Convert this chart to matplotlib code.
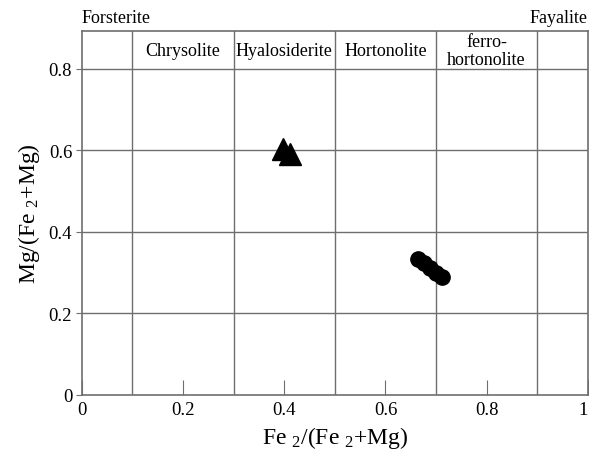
import matplotlib
matplotlib.use("Agg")
import matplotlib.pyplot as plt

plt.rcParams['font.family'] = ['Liberation Serif', 'DejaVu Serif']
plt.rcParams['mathtext.fontset'] = 'custom'
plt.rcParams['mathtext.rm'] = 'Liberation Serif'
plt.rcParams['mathtext.it'] = 'Liberation Serif:italic'

# olivine compositions
tri_fe = [0.397, 0.411]
tri_mg = [0.604, 0.592]
circ_fe = [0.665, 0.677, 0.689, 0.700, 0.711]
circ_mg = [0.334, 0.324, 0.311, 0.300, 0.290]

# field boundaries and names
bounds = [0.1, 0.3, 0.5, 0.7, 0.9]
field_x = [0.2, 0.4, 0.6, 0.8]
field_names = ['Chrysolite', 'Hyalosiderite', 'Hortonolite', 'ferro-\nhortonolite']

xticks = [0, 0.2, 0.4, 0.6, 0.8, 1]
xticklabels = ['0', '0.2', '0.4', '0.6', '0.8', '1']
yticks = [0, 0.2, 0.4, 0.6, 0.8]
yticklabels = ['0', '0.2', '0.4', '0.6', '0.8']

grey = '#6e6e6e'

fig = plt.figure(figsize=(5.89, 4.52), dpi=100)
ax = fig.add_axes([0.139, 0.124, 0.859, 0.805])

for b in bounds:
    ax.axvline(b, color=grey, lw=1.0, zorder=1)
for y in yticks[1:]:
    ax.axhline(y, color=grey, lw=1.0, zorder=1)

ax.plot(tri_fe, tri_mg, '^', color='black', ms=16, zorder=3)
ax.plot(circ_fe, circ_mg, 'o', color='black', ms=11, zorder=3)

for x, name in zip(field_x, field_names):
    ax.text(x, 0.845, name, ha='center', va='center', fontsize=13,
            linespacing=1.05)

ax.text(0.0, 0.905, 'Forsterite', ha='left', va='bottom', fontsize=13)
ax.text(1.0, 0.905, 'Fayalite', ha='right', va='bottom', fontsize=13)

ax.set_xlim(0, 1)
ax.set_ylim(0, 0.893)
ax.set_xticks(xticks)
ax.set_xticklabels(xticklabels)
ax.set_yticks(yticks)
ax.set_yticklabels(yticklabels)
ax.tick_params(axis='x', direction='in', length=11, color=grey, labelsize=13.5, pad=4)
ax.tick_params(axis='y', direction='out', length=4, color=grey, labelsize=13.5, pad=3)
ax.get_xticklabels()[-1].set_ha('right')

for s in ax.spines.values():
    s.set_color(grey)
    s.set_linewidth(1.2)

ax.set_xlabel(r'Fe $_2$/(Fe $_2$+Mg)', fontsize=17, labelpad=5)
ax.set_ylabel(r'Mg/(Fe $_2$+Mg)', fontsize=17, labelpad=5)

fig.savefig('out.png', dpi=100)
